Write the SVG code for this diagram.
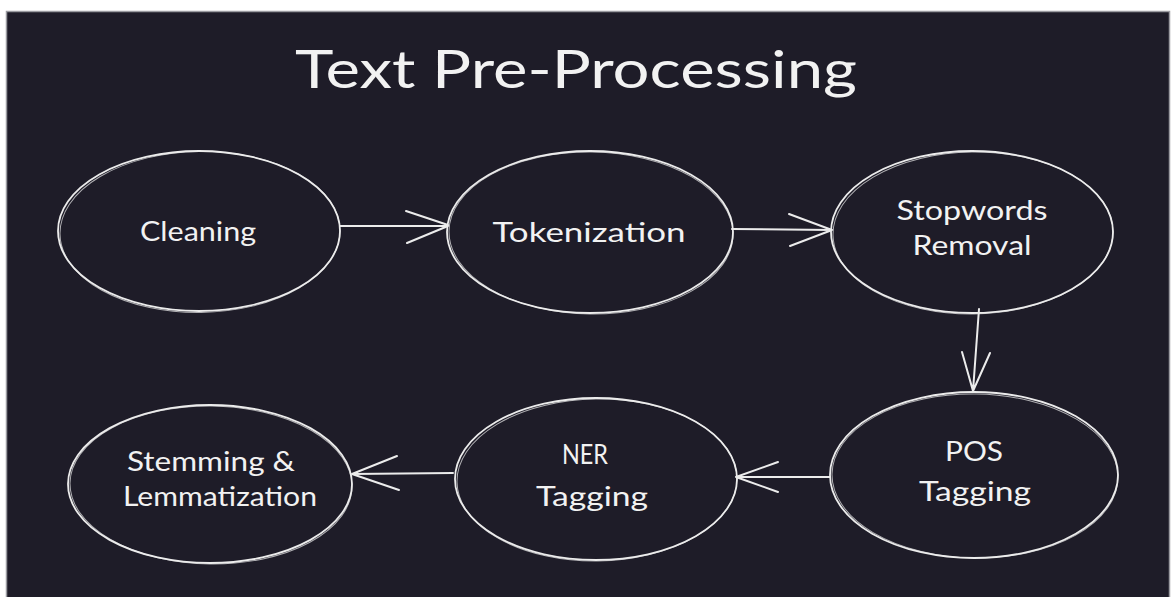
<svg xmlns="http://www.w3.org/2000/svg" width="1174" height="597" viewBox="0 0 1174 597">
  <defs>
    <style>
      .bg { fill: #1e1c28; stroke: #9a9aa0; stroke-width: 1.5; }
      .node { fill: none; stroke: #ececec; stroke-width: 1.8; }
      .node2 { fill: none; stroke: #ececec; stroke-width: 1; opacity: 0.7; }
      .lbl { font-family: "Lato", "Liberation Sans", sans-serif; font-size: 26px; fill: #f2f2f2; text-anchor: middle; }
      .title { font-family: "Lato", "Liberation Sans", sans-serif; font-size: 52px; fill: #f2f2f2; text-anchor: middle; }
      .edge { fill: none; stroke: #ececec; stroke-width: 2; stroke-linecap: round; }
    </style>
  </defs>
  <rect x="0" y="0" width="1174" height="597" fill="#ffffff"/>
  <rect class="bg" x="6.5" y="11.5" width="1163" height="600"/>

  <text class="title" x="576" y="88" textLength="562" lengthAdjust="spacingAndGlyphs">Text Pre-Processing</text>

  <g id="cleaning">
    <ellipse class="node" cx="199" cy="231" rx="141" ry="80"/>
    <ellipse class="node2" cx="200" cy="232" rx="140" ry="80.5" transform="rotate(-0.8 200 232)"/>
    <text class="lbl" x="198" y="241" textLength="116" lengthAdjust="spacingAndGlyphs">Cleaning</text>
  </g>
  <g id="tokenization">
    <ellipse class="node" cx="590" cy="232" rx="143" ry="81"/>
    <ellipse class="node2" cx="591" cy="233" rx="142" ry="81" transform="rotate(0.8 591 233)"/>
    <text class="lbl" x="589" y="242" textLength="193" lengthAdjust="spacingAndGlyphs">Tokenization</text>
  </g>
  <g id="stopwords">
    <ellipse class="node" cx="972" cy="232" rx="141" ry="81"/>
    <ellipse class="node2" cx="973" cy="233" rx="140" ry="81" transform="rotate(-0.8 973 233)"/>
    <text class="lbl" x="972" y="220" textLength="151" lengthAdjust="spacingAndGlyphs">Stopwords</text>
    <text class="lbl" x="972" y="255" textLength="119" lengthAdjust="spacingAndGlyphs">Removal</text>
  </g>
  <g id="pos">
    <ellipse class="node" cx="974" cy="475" rx="144" ry="83"/>
    <ellipse class="node2" cx="975" cy="476" rx="143" ry="82" transform="rotate(0.8 975 476)"/>
    <text class="lbl" x="974" y="461" textLength="58" lengthAdjust="spacingAndGlyphs">POS</text>
    <text class="lbl" x="975" y="501" textLength="112" lengthAdjust="spacingAndGlyphs">Tagging</text>
  </g>
  <g id="ner">
    <ellipse class="node" cx="596" cy="479" rx="141" ry="81"/>
    <ellipse class="node2" cx="597" cy="480" rx="140" ry="81" transform="rotate(-0.8 597 480)"/>
    <text class="lbl" x="585" y="464" textLength="46" lengthAdjust="spacingAndGlyphs">NER</text>
    <text class="lbl" x="592" y="506" textLength="112" lengthAdjust="spacingAndGlyphs">Tagging</text>
  </g>
  <g id="stemming">
    <ellipse class="node" cx="210" cy="484" rx="142" ry="79"/>
    <ellipse class="node2" cx="211" cy="485" rx="141" ry="79" transform="rotate(0.8 211 485)"/>
    <text class="lbl" x="211" y="471" textLength="168" lengthAdjust="spacingAndGlyphs">Stemming &amp;</text>
    <text class="lbl" x="220" y="506" textLength="194" lengthAdjust="spacingAndGlyphs">Lemmatization</text>
  </g>

  <g id="connectors">
    <path class="edge" d="M340 226 L448 226 M406 211 L448 225 M407 243 L448 226"/>
    <path class="edge" d="M732 229 L832 230 M789 214 L832 230 M790 246 L832 230"/>
    <path class="edge" d="M979 309 L973 391 M962 352 L973 391 M990 353 L973 391"/>
    <path class="edge" d="M830 477 L736 477 M778 462 L736 477 M778 492 L736 477"/>
    <path class="edge" d="M453 473 L352 474 M397 456 L352 474 M399 490 L352 474"/>
  </g>
</svg>
